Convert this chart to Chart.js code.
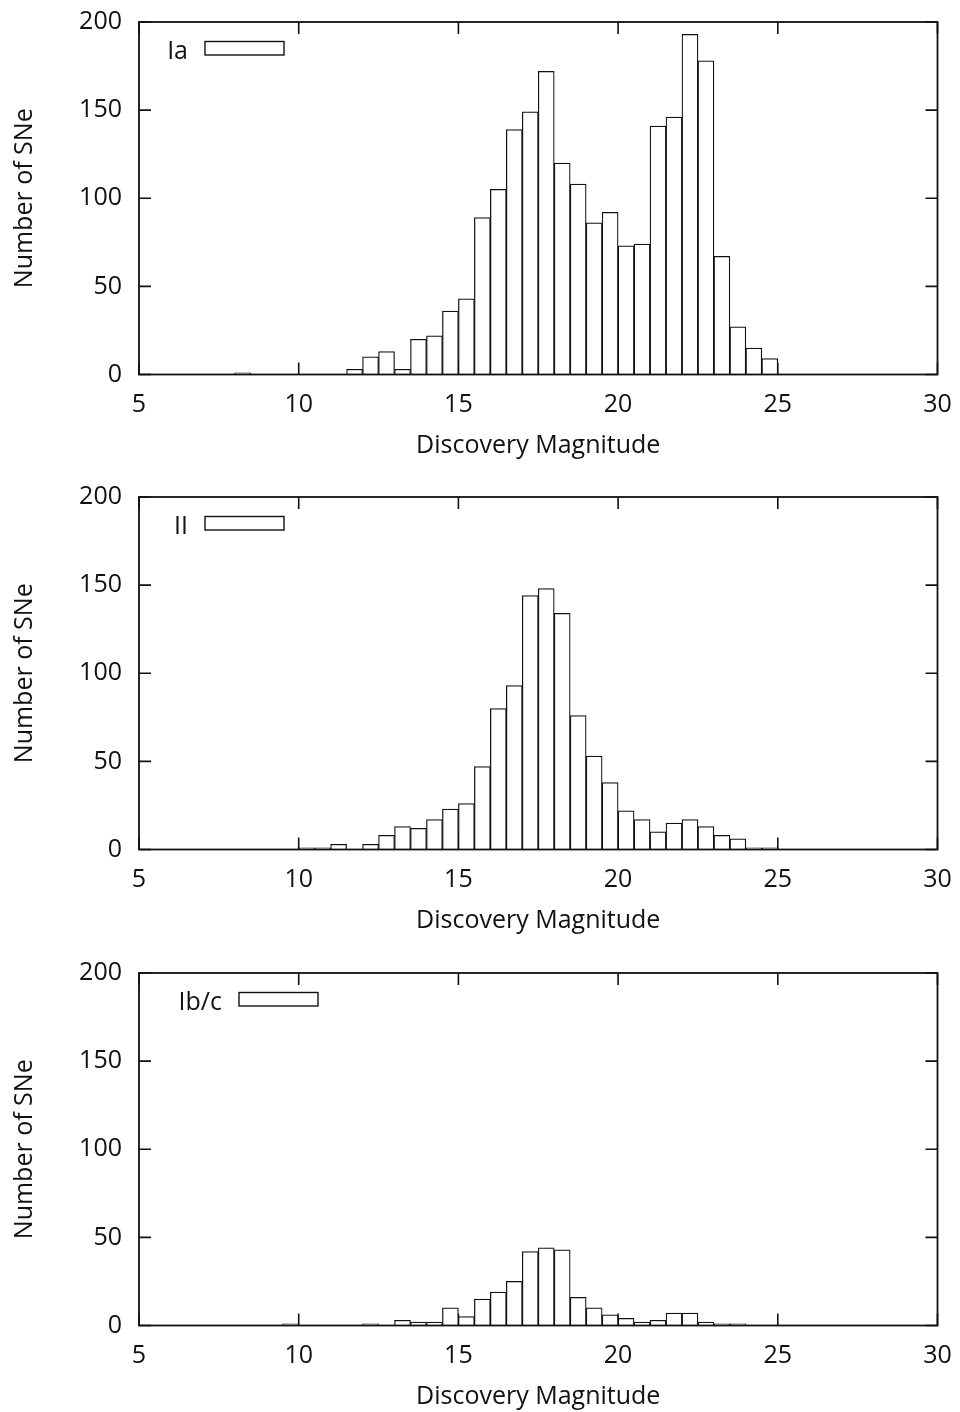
<!DOCTYPE html>
<html>
<head>
<meta charset="utf-8">
<script src="https://cdn.jsdelivr.net/npm/chart.js@4.4.1/dist/chart.umd.min.js"></script>
<style>
  html, body { margin: 0; padding: 0; background: #fff; overflow: hidden; }
  #wrap { position: relative; width: 960px; height: 1412px; }
  .panel { position: absolute; left: 0; width: 960px; height: 476px; }
</style>
</head>
<body>
<div id="wrap">
  <div class="panel" style="top:0px"><canvas id="cIa" width="960" height="476"></canvas></div>
  <div class="panel" style="top:475px"><canvas id="cII" width="960" height="476"></canvas></div>
  <div class="panel" style="top:951px"><canvas id="cIbc" width="960" height="476"></canvas></div>
</div>
<script>
// Bin centres of the 0.5-mag discovery-magnitude bins
const binCenters = [8.25, 8.75, 9.25, 9.75, 10.25, 10.75, 11.25, 11.75, 12.25, 12.75,
                    13.25, 13.75, 14.25, 14.75, 15.25, 15.75, 16.25, 16.75, 17.25, 17.75,
                    18.25, 18.75, 19.25, 19.75, 20.25, 20.75, 21.25, 21.75, 22.25, 22.75,
                    23.25, 23.75, 24.25, 24.75];

// Counts per bin for each supernova type
const countsIa  = [1, 0, 0, 0, 0, 0, 0, 3, 10, 13,
                   3, 20, 22, 36, 43, 89, 105, 139, 149, 172,
                   120, 108, 86, 92, 73, 74, 141, 146, 193, 178,
                   67, 27, 15, 9];
const countsII  = [0, 0, 0, 0, 1, 1, 3, 0, 3, 8,
                   13, 12, 17, 23, 26, 47, 80, 93, 144, 148,
                   134, 76, 53, 38, 22, 17, 10, 15, 17, 13,
                   8, 6, 1, 1];
const countsIbc = [0, 0, 0, 1, 0, 0, 0, 0, 1, 0,
                   3, 2, 2, 10, 5, 15, 19, 25, 42, 44,
                   43, 16, 10, 6, 4, 2, 3, 7, 7, 2,
                   1, 1, 0, 0];

// Axis ticks
const xTicks = [5, 10, 15, 20, 25, 30];
const yTicks = [0, 50, 100, 150, 200];

const typeLabels = ['Ia', 'II', 'Ib/c'];
const xTitle = 'Discovery Magnitude';
const yTitle = 'Number of SNe';

const FONT = "'Open Sans', 'DejaVu Sans', sans-serif";
const INK = '#111';
const FS = 25;

// Inward tick marks on all four sides, drawn beneath the bars
const innerTicks = {
  id: 'innerTicks',
  beforeDatasetsDraw(chart) {
    const { ctx, chartArea: a, scales: { x, y } } = chart;
    const len = 12;
    ctx.save();
    ctx.strokeStyle = INK;
    ctx.lineWidth = 1.6;
    ctx.beginPath();
    xTicks.forEach(v => {
      const px = x.getPixelForValue(v);
      ctx.moveTo(px, a.bottom); ctx.lineTo(px, a.bottom - len);
      ctx.moveTo(px, a.top); ctx.lineTo(px, a.top + len);
    });
    yTicks.forEach(v => {
      const py = y.getPixelForValue(v);
      ctx.moveTo(a.left, py); ctx.lineTo(a.left + len, py);
      ctx.moveTo(a.right, py); ctx.lineTo(a.right - len, py);
    });
    ctx.stroke();
    ctx.restore();
  }
};

// Frame around the plotting area
const frame = {
  id: 'frame',
  afterDatasetsDraw(chart) {
    const { ctx, chartArea: a } = chart;
    ctx.save();
    ctx.strokeStyle = INK;
    ctx.lineWidth = 1.8;
    ctx.strokeRect(a.left, a.top, a.right - a.left, a.bottom - a.top);
    ctx.restore();
  }
};

// Key in the upper-left corner: label followed by an open sample box
const keyBox = {
  id: 'keyBox',
  afterDraw(chart, args, opts) {
    const { ctx, chartArea: a } = chart;
    const label = chart.data.datasets[0].label;
    const boxLeft = a.left + opts.boxOffset;
    const boxTop = a.top + 19.5;
    ctx.save();
    ctx.fillStyle = '#fff';
    ctx.fillRect(boxLeft, boxTop, 79, 13.5);
    ctx.strokeStyle = INK;
    ctx.lineWidth = 1.4;
    ctx.strokeRect(boxLeft, boxTop, 79, 13.5);
    ctx.fillStyle = INK;
    ctx.font = FS + 'px ' + FONT;
    ctx.textAlign = 'right';
    ctx.textBaseline = 'alphabetic';
    ctx.fillText(label, boxLeft - 17, a.top + 37);
    ctx.restore();
  }
};

// Drop the label-overhang padding so the layout padding alone places the plot box
function clearScalePadding(s) {
  s.paddingTop = 0; s.paddingBottom = 0; s.paddingLeft = 0; s.paddingRight = 0;
}

function makeChart(id, label, counts, boxOffset) {
  const points = binCenters.map((m, i) => ({ x: m, y: counts[i] }));
  const tickFont = { family: FONT, size: FS, lineHeight: 1.2 };
  return new Chart(document.getElementById(id), {
    type: 'bar',
    data: {
      datasets: [{
        label: label,
        data: points,
        backgroundColor: '#fff',
        borderColor: INK,
        borderWidth: 1.25,
        barPercentage: 1,
        categoryPercentage: 1
      }]
    },
    options: {
      responsive: false,
      animation: false,
      events: [],
      layout: { padding: { top: 22, right: 22.5, left: 0, bottom: 0 } },
      plugins: {
        legend: { display: false },
        tooltip: { enabled: false },
        keyBox: { boxOffset: boxOffset }
      },
      scales: {
        x: {
          type: 'linear',
          min: 5, max: 30,
          offset: false,
          grid: { display: false, drawTicks: false, offset: false },
          border: { display: false },
          afterBuildTicks: s => { s.ticks = xTicks.map(v => ({ value: v })); },
          ticks: { padding: 15, color: INK, font: tickFont, maxRotation: 0, autoSkip: false },
          title: { display: true, text: xTitle, color: INK, font: tickFont, padding: { top: 0, bottom: 15 } },
          afterFit: s => { s.height = 101.5; clearScalePadding(s); }
        },
        y: {
          min: 0, max: 200,
          grid: { display: false, drawTicks: false },
          border: { display: false },
          afterBuildTicks: s => { s.ticks = yTicks.map(v => ({ value: v })); },
          ticks: { padding: 17, color: INK, font: tickFont },
          title: { display: true, text: yTitle, color: INK, font: tickFont, padding: { top: 10, bottom: 0 } },
          afterFit: s => { s.width = 139; clearScalePadding(s); }
        }
      }
    },
    plugins: [innerTicks, frame, keyBox]
  });
}

makeChart('cIa', typeLabels[0], countsIa, 66);
makeChart('cII', typeLabels[1], countsII, 66);
makeChart('cIbc', typeLabels[2], countsIbc, 100);
</script>
</body>
</html>
